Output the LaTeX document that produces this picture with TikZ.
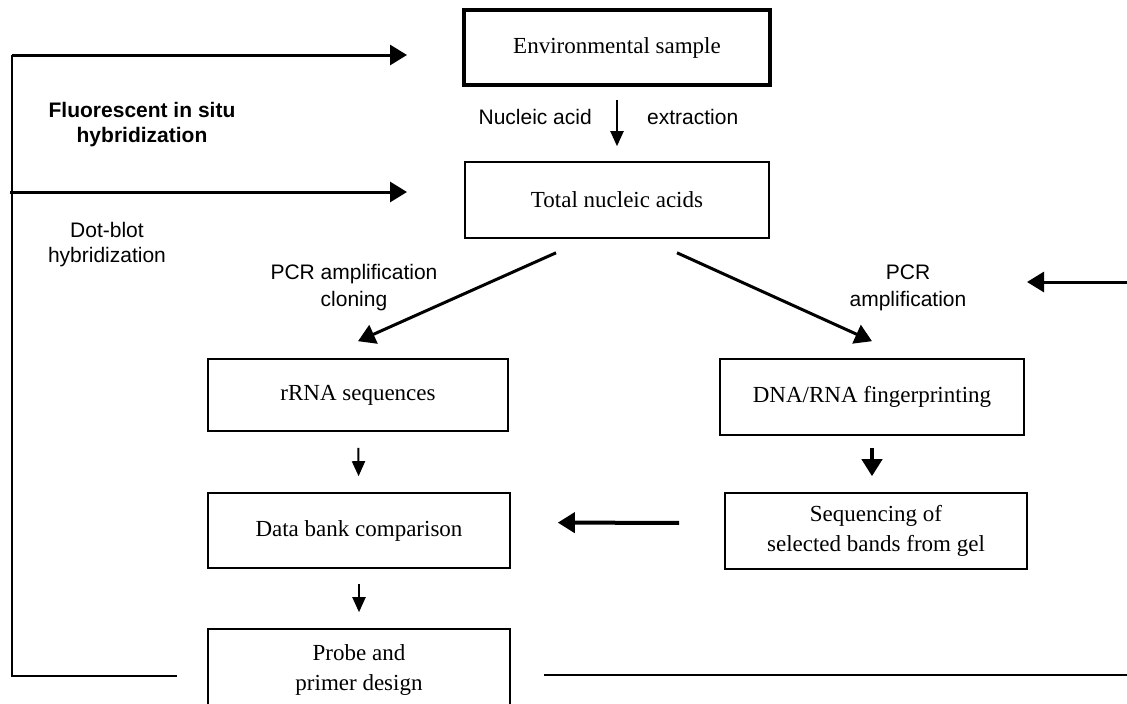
\documentclass[tikz,border=0pt]{standalone}
\usepackage{fontspec}
\setmainfont{Liberation Serif}
\setsansfont{Liberation Sans}
\usetikzlibrary{arrows.meta,calc}

\begin{document}
\begin{tikzpicture}[x=1pt,y=-1pt,
    box/.style={draw,line width=1.6pt,align=center,inner sep=0pt,font=\fontsize{23}{30}\selectfont},
    lab/.style={align=center,inner sep=0pt,font=\sffamily\fontsize{21}{27}\selectfont},
    feed/.style={line width=2.2pt},
    arr/.style={line width=2pt,-{Triangle[length=15pt,width=13pt]}},
    bigarr/.style={line width=3pt,-{Triangle[length=17pt,width=20pt]}}]
  \useasboundingbox (0,0) rectangle (1127,704);
  \clip (0,0) rectangle (1127,704);
  % boxes
  \node[box,line width=3.4pt,minimum width=306pt,minimum height=75pt] (env) at (617,47.5) {Environmental sample};
  \node[box,minimum width=304pt,minimum height=76pt] (total) at (617,200) {Total nucleic acids};
  \node[box,minimum width=300pt,minimum height=72pt] (rrna) at (358,395) {rRNA sequences};
  \node[box,minimum width=304pt,minimum height=76pt] (dna) at (872,397) {DNA/RNA fingerprinting};
  \node[box,minimum width=302pt,minimum height=75pt] (data) at (359,530.5) {Data bank comparison};
  \node[box,minimum width=302pt,minimum height=76pt] (seq) at (876,531) {Sequencing of\\selected bands from gel};
  \node[box,minimum width=302pt,minimum height=82pt] (probe) at (359,670) {Probe and\\primer design};
  % labels
  \node[lab,anchor=east] (nuc) at (592,117) {Nucleic acid};
  \node[lab,anchor=west] (extr) at (647,117) {extraction};
  \node[lab,font=\sffamily\bfseries\fontsize{21}{25}\selectfont] (fish) at (142,125) {Fluorescent in situ\\hybridization};
  \node[lab,font=\sffamily\fontsize{21}{25}\selectfont] (dot) at (107,245) {Dot-blot\\hybridization};
  \node[lab] (pcrl) at (354,288) {PCR amplification\\cloning};
  \node[lab] (pcrr) at (908,288) {PCR\\amplification};
  % feedback lines
  \coordinate (loopul) at (12,55);
  \coordinate (loopdl) at (12,676);
  \coordinate (loopdr) at (1127,675);
  \coordinate (fishtip) at (407,55);
  \coordinate (dotstart) at (10,192);
  \coordinate (dottip) at (407,192);
  \coordinate (pcrstart) at (1127,282);
  \coordinate (pcrtip) at (1027,282);
  \draw[feed] ([xshift=-30pt,yshift=-6pt]probe.west) -- (loopdl) -- (loopul);
  \draw[feed,line width=2.8pt] ([xshift=33pt,yshift=-5pt]probe.east) -- (loopdr);
  \draw[bigarr] (loopul) -- (fishtip);
  \draw[bigarr] (dotstart) -- (dottip);
  \draw[bigarr] (pcrstart) -- (pcrtip);
  % flow arrows
  \draw[arr,shorten <=13pt,shorten >=15pt] (env) -- (total);
  \draw[bigarr] ($(total.south)+(-61,14)$) -- ($(rrna.north)+(0,-17)$);
  \draw[bigarr] ($(total.south)+(60,14)$) -- ($(dna.north)+(0,-17)$);
  \draw[arr,shorten <=16pt,shorten >=16pt] (rrna) -- (data);
  \draw[bigarr,line width=4pt,shorten <=12pt,shorten >=16pt] (dna.south) -- (dna.south |- seq.north);
  \draw[bigarr,line width=4pt,shorten <=45pt,shorten >=47pt] ([yshift=8pt]seq.west) -- ([yshift=8pt]data.east);
  \draw[arr,shorten <=15pt,shorten >=16pt] (data) -- (probe);
\end{tikzpicture}
\end{document}
